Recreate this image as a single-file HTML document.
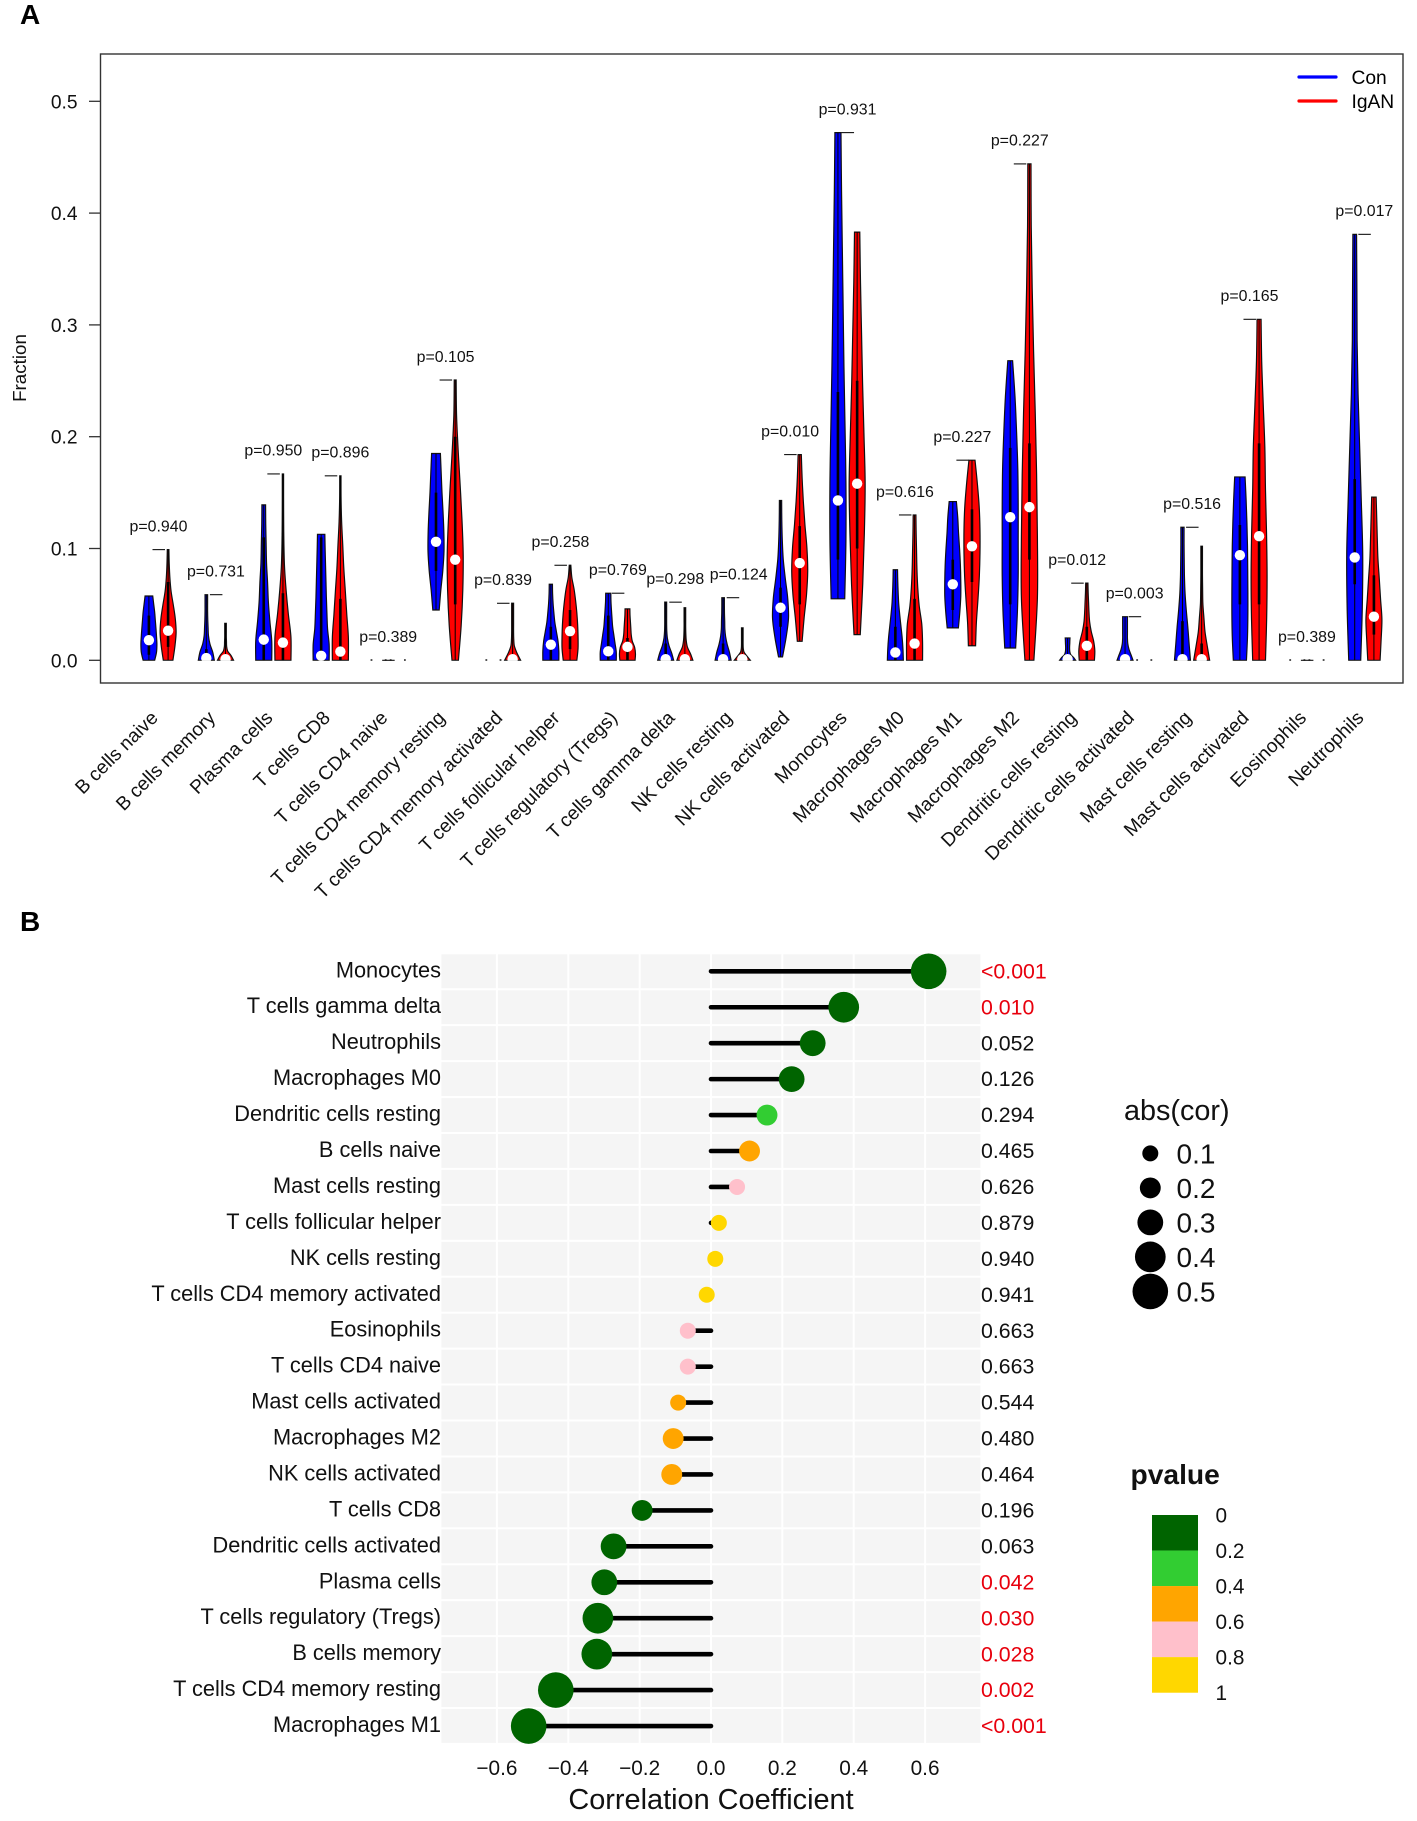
<!DOCTYPE html>
<html lang="en">
<head>
<meta charset="utf-8">
<title>Immune cell fractions and correlation</title>
<style>
html,body{margin:0;padding:0;background:#fff;}
svg{display:block;font-family:"Liberation Sans",Arial,sans-serif;}
</style>
</head>
<body>
<svg id="fig" xmlns="http://www.w3.org/2000/svg" width="1417" height="1821" viewBox="0 0 1417 1821">
  <rect x="0" y="0" width="1417" height="1821" fill="#fff"/>
  <text x="20" y="24" font-size="28" font-weight="700">A</text>
  <text x="20" y="931" font-size="28" font-weight="700">B</text>

  <g id="panelA"></g>
  <rect x="100.5" y="54" width="1302.5" height="629" fill="none" stroke="#333" stroke-width="1.4"/>
  <text transform="translate(26,368) rotate(-90)" text-anchor="middle" font-size="18.8" fill="#111">Fraction</text>
  <g>
    <line x1="1299" x2="1336" y1="77" y2="77" stroke="#0000FF" stroke-width="3.2" stroke-linecap="round"/>
    <text x="1351.5" y="84" font-size="19.2">Con</text>
    <line x1="1299" x2="1336" y1="101" y2="101" stroke="#FF0000" stroke-width="3.2" stroke-linecap="round"/>
    <text x="1351.5" y="108" font-size="19.2">IgAN</text>
  </g>

  <g id="panelB"></g>
  <text x="711" y="1809" text-anchor="middle" font-size="28.9" fill="#111">Correlation Coefficient</text>

  <text x="1124" y="1120" font-size="28.8" fill="#111">abs(cor)</text>
  <g id="sizeLegend"></g>
  <text x="1130.5" y="1484" font-size="28.2" font-weight="700" fill="#111">pvalue</text>
  <g id="colorLegend"></g>
</svg>

<script>
/* ---------- Panel A data ---------- */
const cellTypes = ["B cells naive","B cells memory","Plasma cells","T cells CD8","T cells CD4 naive","T cells CD4 memory resting","T cells CD4 memory activated","T cells follicular helper","T cells regulatory (Tregs)","T cells gamma delta","NK cells resting","NK cells activated","Monocytes","Macrophages M0","Macrophages M1","Macrophages M2","Dendritic cells resting","Dendritic cells activated","Mast cells resting","Mast cells activated","Eosinophils","Neutrophils"];
const groupPvalues = ["0.940","0.731","0.950","0.896","0.389","0.105","0.839","0.258","0.769","0.298","0.124","0.010","0.931","0.616","0.227","0.227","0.012","0.003","0.516","0.165","0.389","0.017"];
const yTicks = [0,0.1,0.2,0.3,0.4,0.5];

const conMax = [.0575,.0587,.139,.1127,0,.185,.003,.068,.060,.052,.056,.143,.472,.081,.142,.268,.020,.039,.119,.164,0,.381];
const conMin = [0,0,0,0,0,.045,0,0,0,0,0,.003,.055,0,.029,.011,0,0,0,0,0,0];
const conMedian = [.018,.002,.0185,.004,0,.106,0,.014,.008,.001,.001,.047,.143,.007,.068,.128,.001,.001,.001,.094,0,.092];
const conQ1 = [.005,0,0,0,0,.08,0,0,0,0,0,.03,.09,0,.045,.05,0,0,0,.05,0,.068];
const conQ3 = [.04,.01,.11,.11,0,.15,0,.03,.04,.015,.015,.065,.24,.03,.09,.19,.005,.005,.035,.121,0,.162];
const conDensity = [
 [.72,.95,1,.95,.88,.8,.72,.6,.48],[1,.8,.45,.27,.22,.18,.16,.16,.16],[1,1,.77,.58,.48,.35,.3,.25,.23],[1,1,.8,.72,.65,.6,.55,.5,.46],[],
 [.4,.6,.85,1,.98,.88,.75,.65,.55],[],[1,1,.9,.7,.5,.38,.28,.22,.2],[1,1,.85,.7,.55,.47,.4,.34,.32],[1,.75,.42,.22,.14,.12,.12,.12,.12],
 [1,.8,.52,.32,.22,.2,.17,.16,.16],[.25,.7,1,.9,.6,.34,.22,.16,.14],[.85,1,1,.88,.75,.65,.55,.45,.38],[1,.95,.85,.7,.55,.42,.35,.3,.27],[.7,.88,1,1,.95,.85,.72,.62,.45],
 [.68,.9,1,1,1,.95,.8,.6,.3],[1,.75,.4,.28,.25,.25,.27,.28,.3],[1,.75,.5,.35,.3,.3,.3,.3,.3],[1,.83,.67,.48,.33,.25,.22,.2,.2],[.82,.95,1,1,.98,.95,.88,.78,.65],[],[.75,.95,1,.82,.62,.42,.3,.27,.23]
];

const iganMax = [.099,.033,.1667,.165,0,.2507,.051,.085,.046,.047,.029,.184,.383,.130,.179,.444,.069,.003,.102,.305,0,.146];
const iganMin = [0,0,0,0,0,0,0,0,0,0,0,.017,.023,0,.013,0,0,0,0,0,0,0];
const iganMedian = [.0265,.001,.0158,.0078,0,.09,.001,.026,.012,.001,.001,.087,.158,.015,.102,.137,.013,0,.001,.111,0,.039];
const iganQ1 = [.012,0,0,0,0,.05,0,.01,0,0,0,.05,.10,0,.07,.09,0,0,0,.05,0,.023];
const iganQ3 = [.07,.005,.06,.055,0,.2,.003,.045,.02,.005,.003,.12,.25,.055,.135,.194,.03,0,.015,.194,0,.076];
const iganDensity = [
 [.6,.85,1,.9,.65,.37,.22,.14,.1],[1,.7,.27,.14,.12,.1,.1,.1,.1],[1,1,.67,.4,.2,.12,.09,.08,.08],[1,1,.8,.62,.43,.3,.16,.09,.08],[],
 [.4,.75,.95,1,.85,.62,.37,.17,.12],[1,.55,.22,.14,.12,.12,.12,.12,.12],[.85,1,1,.95,.85,.7,.5,.22,.1],[.95,1,.9,.6,.47,.42,.37,.32,.3],[1,.7,.32,.17,.12,.1,.1,.1,.1],
 [1,.6,.22,.12,.1,.1,.1,.1,.1],[.3,.55,.85,1,.9,.65,.45,.3,.2],[.39,.7,.9,1,.85,.68,.55,.42,.33],[1,1,.9,.58,.4,.3,.25,.2,.17],[.45,.55,.75,.92,1,1,.9,.67,.38],
 [.56,1,1,.9,.73,.52,.35,.23,.2],[.95,1,.85,.55,.35,.27,.22,.17,.14],[],[1,.7,.42,.28,.15,.12,.1,.1,.1],[.8,.95,1,.93,.8,.72,.52,.33,.25],[],[.77,.9,1,.83,.67,.5,.42,.35,.28]
];

/* ---------- Panel B data ---------- */
const rowNames = ["Monocytes","T cells gamma delta","Neutrophils","Macrophages M0","Dendritic cells resting","B cells naive","Mast cells resting","T cells follicular helper","NK cells resting","T cells CD4 memory activated","Eosinophils","T cells CD4 naive","Mast cells activated","Macrophages M2","NK cells activated","T cells CD8","Dendritic cells activated","Plasma cells","T cells regulatory (Tregs)","B cells memory","T cells CD4 memory resting","Macrophages M1"];
const correlations = [.61,.372,.285,.226,.157,.108,.073,.022,.012,-.012,-.065,-.065,-.092,-.106,-.11,-.193,-.273,-.299,-.317,-.32,-.435,-.511];
const rowPvalues = [0.0005,0.010,0.052,0.126,0.294,0.465,0.626,0.879,0.940,0.941,0.663,0.663,0.544,0.480,0.464,0.196,0.063,0.042,0.030,0.028,0.002,0.0005];
const corTicks = [-0.6,-0.4,-0.2,0,0.2,0.4,0.6];
const sizeLegendValues = [0.1,0.2,0.3,0.4,0.5];
const pvalueBreaks = ["0","0.2","0.4","0.6","0.8","1"];
const pvalueColors = ["#006400","#32CD32","#FFA500","#FFC0CB","#FFD700"];

/* ---------- helpers ---------- */
const SVGNS = "http://www.w3.org/2000/svg";
function mk(parent, tag, attrs, txt){
  const el = document.createElementNS(SVGNS, tag);
  for (const k in attrs) el.setAttribute(k, attrs[k]);
  if (txt !== undefined) el.textContent = txt;
  parent.appendChild(el);
  return el;
}
function slug(s){ return s.toLowerCase().replace(/[^a-z0-9]+/g,'-').replace(/^-|-$/g,''); }

/* axis functions panel A */
const yA = v => 660.3 - 1118 * v;
const groupX = i => 158.5 + 57.42 * i;
const HALF = 8;

/* axis functions panel B */
const xB = v => 711 + 356.8 * v;
const rowY = i => 971.3 + 35.94 * i;
const radiusFor = c => 8 + 2.45 * Math.min(4, Math.floor(Math.abs(c) * 10));
const colorFor = p => pvalueColors[Math.min(4, Math.floor(p / 0.2))];

/* violin outline via Catmull-Rom through density knots */
function violinPath(cx, lo, hi, dens){
  const n = dens.length, pts = [];
  for (let i = 0; i < n; i++) pts.push([HALF * dens[i], yA(lo + (hi - lo) * i / (n - 1))]);
  function seg(p, sign){
    let d = '';
    for (let i = 0; i < p.length - 1; i++){
      const a = p[Math.max(0, i - 1)], b = p[i], c = p[i + 1], e = p[Math.min(p.length - 1, i + 2)];
      const c1x = b[0] + (c[0] - a[0]) / 6, c1y = b[1] + (c[1] - a[1]) / 6;
      const c2x = c[0] - (e[0] - b[0]) / 6, c2y = c[1] - (e[1] - b[1]) / 6;
      d += 'C' + (cx + sign * c1x).toFixed(2) + ' ' + c1y.toFixed(2) + ' ' + (cx + sign * c2x).toFixed(2) + ' ' + c2y.toFixed(2) + ' ' + (cx + sign * c[0]).toFixed(2) + ' ' + c[1].toFixed(2);
    }
    return d;
  }
  const rev = pts.slice().reverse();
  return 'M' + (cx + pts[0][0]).toFixed(2) + ' ' + pts[0][1].toFixed(2) + seg(pts, 1) +
         'L' + (cx - rev[0][0]).toFixed(2) + ' ' + rev[0][1].toFixed(2) + seg(rev, -1) + 'Z';
}

/* ---------- draw panel A ---------- */
const panelA = document.getElementById('panelA');
const defs = mk(panelA, 'defs', {});
const clip = mk(defs, 'clipPath', {id:'baseClip'});
mk(clip, 'rect', {x:100, y:54, width:1303, height: yA(0) - 54 + 0.6});

yTicks.forEach(t => {
  const tick = mk(panelA, 'line', {x1:89, x2:100.5, y1:yA(t), y2:yA(t), stroke:'#333', 'stroke-width':1.3});
  
  
  const lab = mk(panelA, 'text', {x:77.5, y:yA(t) + 7, 'text-anchor':'end', 'font-size':19.2, fill:'#111'}, t.toFixed(1));
  
  
});

const marks = mk(panelA, 'g', {'clip-path':'url(#baseClip)'});



function drawViolin(cx, max, min, med, q1, q3, dens, color, label){
  const g = mk(marks, 'g', {});
  
  
  if (!dens.length){
    const yb = yA(0) - 0.2;
    mk(g, 'path', {d:'M' + (cx - HALF) + ' ' + yb + 'h1.8M' + (cx + HALF - 1.8) + ' ' + yb + 'h1.8', stroke:'#222', 'stroke-width':1.6, fill:'none'});
    return;
  }
  mk(g, 'path', {d:violinPath(cx, min, max, dens), fill:color, stroke:'#111', 'stroke-width':1.2, 'stroke-linejoin':'miter'});
  mk(g, 'line', {x1:cx, x2:cx, y1:yA(min), y2:yA(max), stroke:'#000', 'stroke-width':1});
  mk(g, 'line', {x1:cx, x2:cx, y1:yA(q1), y2:yA(q3), stroke:'#000', 'stroke-width':2.6});
  mk(g, 'ellipse', {cx:cx, cy:yA(med), rx:5.2, ry:5.2, fill:'#fff'});
}

function labelNudge(i){
  if (i === 3) return 9.6;
  if (i === 10) return 6;
  return 0;
}

cellTypes.forEach((name, i) => {
  const c = groupX(i);
  const key = slug(name);
  drawViolin(c - 9.6, conMax[i], conMin[i], conMedian[i], conQ1[i], conQ3[i], conDensity[i], '#0000FF', 'con-' + key);
  drawViolin(c + 9.6, iganMax[i], iganMin[i], iganMedian[i], iganQ1[i], iganQ3[i], iganDensity[i], '#FF0000', 'igan-' + key);
  const top = Math.max(conMax[i], iganMax[i]);
  const tickLine = mk(panelA, 'line', {x1:c - 6, x2:c + 6.5, y1:yA(top), y2:yA(top), stroke:'#111', 'stroke-width':1.1});
  
  
  const pl = mk(panelA, 'text', {x:c + labelNudge(i), y:yA(top) - 18.2, 'text-anchor':'middle', 'font-size':15.9, fill:'#111'}, 'p=' + groupPvalues[i]);
  
  
  const xl = mk(panelA, 'text', {transform:'translate(' + (c + 0.5) + ',719) rotate(-45)', 'text-anchor':'end', 'font-size':19.2, fill:'#111'}, name);
  
  
});

/* ---------- draw panel B ---------- */
const panelB = document.getElementById('panelB');
rowNames.forEach((name, i) => {
  const bg = mk(panelB, 'rect', {x:441.4, y:rowY(i) - 17, width:539, height:33.9, fill:'#F5F5F5'});
  
  
});
corTicks.forEach(t => {
  const gl = mk(panelB, 'line', {x1:xB(t), x2:xB(t), y1:953, y2:1745, stroke:'#fff', 'stroke-width':2});
  
  
  const tl = mk(panelB, 'text', {x:xB(t), y:1775, 'text-anchor':'middle', 'font-size':20.8, fill:'#111'}, (t < 0 ? '\u2212' : '') + Math.abs(t).toFixed(1));
  
  
});
rowNames.forEach((name, i) => {
  const y = rowY(i), c = correlations[i], p = rowPvalues[i], key = slug(name);
  const rl = mk(panelB, 'text', {x:441, y:y + 6, 'text-anchor':'end', 'font-size':21.75, fill:'#111'}, name);
  
  
  const stem = mk(panelB, 'line', {x1:xB(0), x2:xB(c), y1:y, y2:y, stroke:'#000', 'stroke-width':4.6, 'stroke-linecap':'round'});
  
  
  const dot = mk(panelB, 'circle', {cx:xB(c), cy:y, r:radiusFor(c), fill:colorFor(p)});
  
  
  const pt = mk(panelB, 'text', {x:981, y:y + 7.1, 'font-size':21.3, fill: p < 0.05 ? '#E8000D' : '#111'}, p < 0.001 ? '<0.001' : p.toFixed(3));
  
  
});

/* ---------- legends ---------- */
const sizeLegend = document.getElementById('sizeLegend');
sizeLegendValues.forEach((v, i) => {
  const y = 1153.4 + 34.5 * i;
  const d = mk(sizeLegend, 'circle', {cx:1150.3, cy:y, r:radiusFor(v - 0.05), fill:'#000'});
  
  
  const t = mk(sizeLegend, 'text', {x:1176.5, y:y + 10, 'font-size':28, fill:'#111'}, v.toFixed(1));
  
  
});
const colorLegend = document.getElementById('colorLegend');
pvalueColors.forEach((col, i) => {
  const s = mk(colorLegend, 'rect', {x:1152, y:1515 + 35.53 * i, width:46, height:35.6, fill:col});
  
  
});
pvalueBreaks.forEach((lab, i) => {
  const t = mk(colorLegend, 'text', {x:1215.5, y:1515 + 35.53 * i + 7.3, 'font-size':20.8, fill:'#111'}, lab);
  
  
});
</script>
</body>
</html>
